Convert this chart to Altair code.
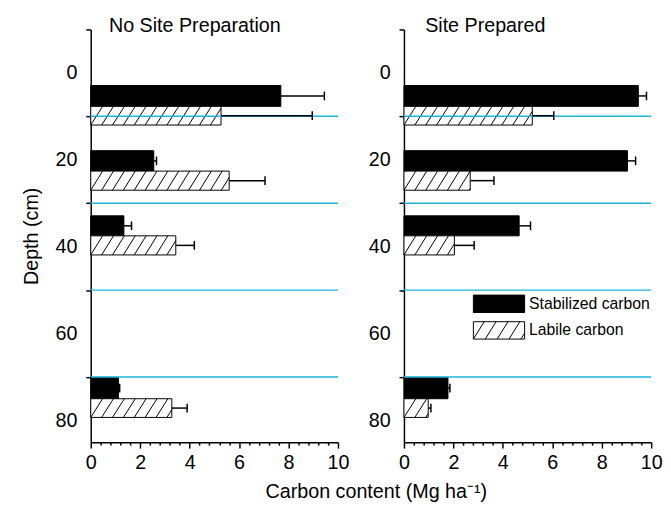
import altair as alt
import pandas as pd

# ---- data ----
panels = ["No Site Preparation", "Site Prepared"]
depth_group = ["0", "20", "40", "80"]
# depth extents (cm) of the paired bars in each depth group
stab_top = [2.9, 17.9, 32.9, 70.1]
pair_mid = [7.7, 22.6, 37.5, 75.0]
lab_bottom = [12.0, 27.0, 41.9, 79.3]

stab_noprep = [7.69, 2.55, 1.34, 1.12]
stab_noprep_err = [1.76, 0.11, 0.31, 0.05]
lab_noprep = [5.27, 5.60, 3.44, 3.28]
lab_noprep_err = [3.69, 1.45, 0.75, 0.62]

stab_prep = [9.48, 9.04, 4.66, 1.78]
stab_prep_err = [0.33, 0.33, 0.46, 0.08]
lab_prep = [5.19, 2.68, 2.04, 0.98]
lab_prep_err = [0.87, 0.96, 0.80, 0.11]

layer_bounds = [10, 30, 50, 70]
series = ["Stabilized carbon", "Labile carbon"]

FONT = "Liberation Sans"
CYAN = "#1cb5d9"
W, H = 251, 419


def panel_frame(stab, stab_err, lab, lab_err):
    rows = []
    for i in range(len(depth_group)):
        rows.append(dict(type=series[0], value=stab[i], err=stab_err[i],
                         d0=stab_top[i], d1=pair_mid[i]))
        rows.append(dict(type=series[1], value=lab[i], err=lab_err[i],
                         d0=pair_mid[i], d1=lab_bottom[i]))
    df = pd.DataFrame(rows)
    df["hi"] = df["value"] + df["err"]
    df["dc"] = (df["d0"] + df["d1"]) / 2
    df["c0"] = df["dc"] - 1.0
    df["c1"] = df["dc"] + 1.0
    df["zero"] = 0.0
    return df


def hatch_frame(df, step=0.44, run=0.48):
    rows = []
    for _, r in df[df["type"] == series[1]].iterrows():
        k = 0
        while k * step < r["value"] - 0.02:
            x0 = k * step
            x1 = x0 + run
            yb, yt = r["d1"], r["d0"]
            if x1 > r["value"]:
                frac = (r["value"] - x0) / run
                x1 = r["value"]
                yt = yb - (yb - yt) * frac
            rows.append(dict(hx0=x0, hx1=x1, hy0=yb, hy1=yt))
            k += 1
    return pd.DataFrame(rows)


# legend swatch: wide rectangle with diagonal hatching (units of 9 px)
legend_path = ("M-2.89,-0.98H2.89V0.98H-2.89Z "
               "M-2.89,0.98L-1.67,-0.98 M-1.55,0.98L-0.33,-0.98 "
               "M-0.21,0.98L1.01,-0.98 M1.13,0.98L2.35,-0.98 M2.47,0.98L2.89,0.31")

xscale = alt.Scale(domain=[0, 10], nice=False, zero=False)
yscale = alt.Scale(domain=[-10, 85], nice=False, zero=False, reverse=True)

xticks = [round(0.4 * i, 1) for i in range(26)]
yticks = list(range(-10, 81, 10))

major_x = "datum.value % 2 == 0"


def make_panel(name, df, show_legend, title_dx, ytitle):
    # the panel heading is carried by the x axis title, moved to the top-left of the panel
    xaxis = alt.Axis(values=xticks, title=name, grid=False,
                     labelExpr=f"{major_x} ? format(datum.value, 'd') : ''",
                     tickSize={"condition": {"test": major_x, "value": 6}, "value": 3},
                     labelFont=FONT, labelFontSize=20, labelColor="black",
                     labelPadding=5, domainColor="black", domainWidth=1.5,
                     tickColor="black", tickWidth=1.5, labelFlush=False,
                     labelOverlap=False, labelBound=False,
                     titleX=title_dx, titleY=-(H - 2), titleAlign="left",
                     titleAnchor="start", titleBaseline="alphabetic",
                     titleFont=FONT, titleFontSize=20, titleFontWeight="normal",
                     titleColor="black")
    yaxis = alt.Axis(values=yticks, title=ytitle, grid=False,
                     labelExpr="datum.value % 20 == 0 && datum.value >= 0 ? datum.label : ''",
                     tickColor={"condition": {"test": "datum.value % 20 == 0", "value": "transparent"},
                                "value": "black"},
                     tickSize=5, tickWidth=1.5, labelOverlap=False,
                     labelFont=FONT, labelFontSize=20, labelColor="black", labelPadding=9,
                     domainColor="black", domainWidth=1.5,
                     titleFont=FONT, titleFontSize=20, titleFontWeight="normal",
                     titleColor="black", titlePadding=14)

    base = alt.Chart(df)
    sep = alt.Chart(pd.DataFrame({"depth": layer_bounds})).mark_rule(
        color=CYAN, strokeWidth=1.5).encode(
        x=alt.datum(0, scale=xscale, axis=xaxis), x2=alt.datum(10),
        y=alt.Y("depth:Q", scale=yscale, axis=yaxis))

    if show_legend:
        legend = alt.Legend(title=None, orient="none", legendX=87, legendY=269,
                            symbolType=legend_path, symbolSize=324,
                            symbolStrokeColor="black", symbolStrokeWidth=1,
                            labelFont=FONT, labelFontSize=16, labelColor="black",
                            labelOffset=21, rowPadding=4)
    else:
        legend = None

    bars = base.mark_rect(stroke="black", strokeWidth=1).encode(
        x=alt.X("value:Q", scale=xscale, axis=xaxis),
        x2="zero:Q",
        y=alt.Y("d0:Q", scale=yscale, axis=yaxis), y2="d1:Q",
        fill=alt.Fill("type:N", scale=alt.Scale(domain=series, range=["black", "white"]),
                      legend=legend, sort=series))

    hatch = alt.Chart(hatch_frame(df)).mark_rule(color="black", strokeWidth=1).encode(
        x=alt.X("hx0:Q", scale=xscale, axis=xaxis), x2="hx1:Q",
        y=alt.Y("hy0:Q", scale=yscale, axis=yaxis), y2="hy1:Q")

    err = base.mark_rule(color="black", strokeWidth=1.5).encode(
        x=alt.X("value:Q", scale=xscale, axis=xaxis), x2="hi:Q",
        y=alt.Y("dc:Q", scale=yscale, axis=yaxis))
    cap = base.mark_rule(color="black", strokeWidth=1.5).encode(
        x=alt.X("hi:Q", scale=xscale, axis=xaxis),
        y=alt.Y("c0:Q", scale=yscale, axis=yaxis), y2="c1:Q")

    return alt.layer(bars, hatch, sep, err, cap).properties(width=W, height=H)


left = make_panel(panels[0], panel_frame(stab_noprep, stab_noprep_err, lab_noprep, lab_noprep_err),
                  False, 18, "Depth (cm)")
right = make_panel(panels[1], panel_frame(stab_prep, stab_prep_err, lab_prep, lab_prep_err),
                   True, 21, None)

chart = alt.hconcat(left, right, spacing=18).resolve_scale(fill="independent").properties(
    title=alt.TitleParams("Carbon content (Mg ha⁻¹)", orient="bottom", anchor="middle",
                          dx=35, offset=10, font=FONT, fontSize=20, fontWeight="normal",
                          color="black"),
    padding={"left": 13, "top": 4, "right": 0, "bottom": 0},
).configure_view(stroke=None)

chart.save("out.html", embed_options={"renderer": "svg", "actions": False})
